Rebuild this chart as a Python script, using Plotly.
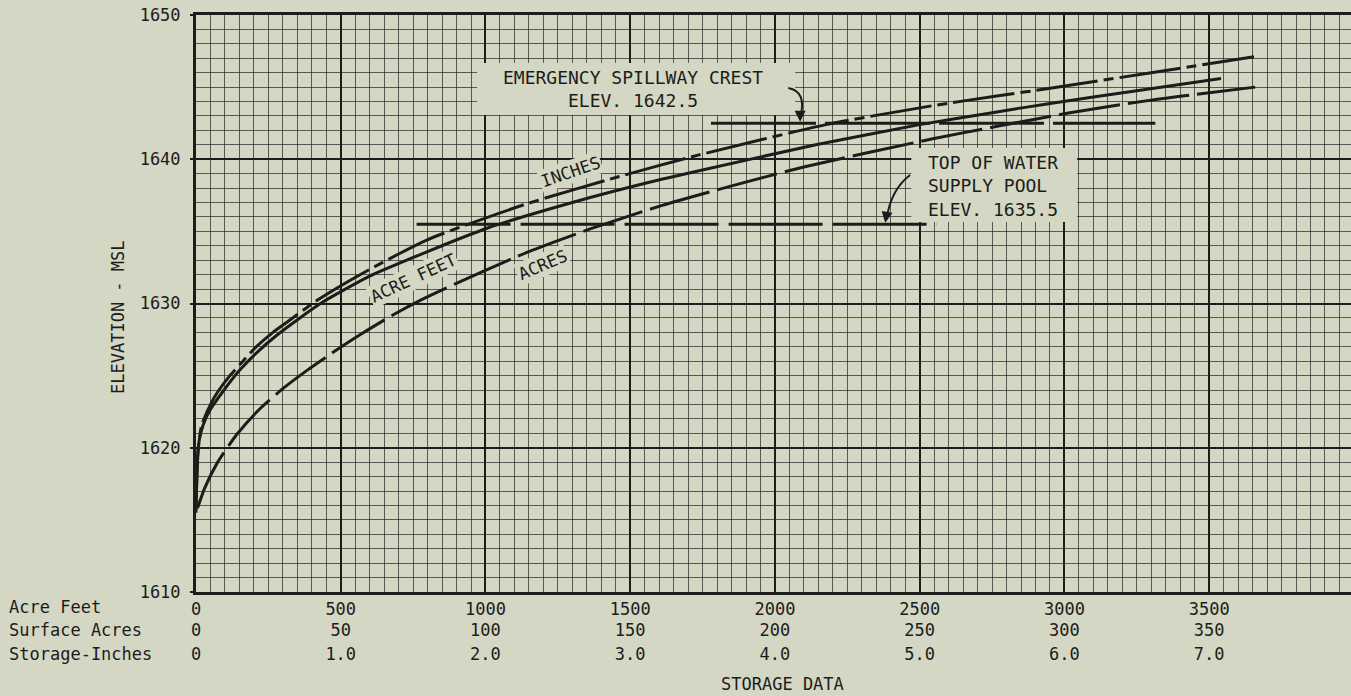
import plotly.graph_objects as go

# ---------------- data ----------------
# Acre-feet curve (x in acre feet)
acre_feet_x = [0, 1, 3, 6, 12, 25, 48, 93, 152, 210, 279, 359, 438, 600, 800, 1003, 1300, 1566, 1738, 2141, 2500, 2772, 2945, 3250, 3541]
acre_feet_y = [1615.5, 1616.5, 1618.0, 1619.5, 1620.6, 1621.6, 1622.6, 1623.9, 1625.4, 1626.6, 1627.8, 1629.0, 1630.1, 1631.9, 1633.6, 1635.2, 1637.0, 1638.4, 1639.2, 1641.0, 1642.4, 1643.3, 1643.85, 1644.75, 1645.6]

# Surface-acres curve (x in acres)
acres_x = [0.5, 3.0, 7.2, 14.0, 22.1, 30.0, 38.6, 48.0, 57.2, 68.0, 78.3, 95.5, 115.0, 135.9, 161.0, 184.1, 210.7, 254.1, 277.2, 301.4, 330.0, 365.9]
acres_y = [1615.8, 1617.2, 1618.9, 1620.9, 1622.7, 1624.1, 1625.4, 1626.7, 1627.9, 1629.2, 1630.3, 1631.9, 1633.6, 1635.15, 1636.8, 1638.1, 1639.5, 1641.4, 1642.3, 1643.2, 1644.1, 1645.0]

# Storage-inches curve (x in inches)
inches_x = [0, 0.006, 0.016, 0.04, 0.11, 0.152, 0.234, 0.324, 0.406, 0.532, 0.628, 0.834, 1.152, 1.594, 2.282, 2.924, 3.476, 4.352, 5.082, 5.544, 5.89, 6.6, 7.31]
inches_y = [1616.0, 1618.0, 1620.0, 1621.6, 1623.2, 1623.9, 1625.0, 1626.0, 1626.9, 1628.0, 1628.7, 1630.2, 1632.1, 1634.4, 1636.9, 1638.8, 1640.3, 1642.4, 1643.7, 1644.4, 1644.9, 1646.0, 1647.1]

# Reference elevations (x extents in acre feet)
spillway_elev = 1642.5
spillway_x = [1779, 3314]
pool_elev = 1635.5
pool_x = [762, 2559]

# Axis ticks
af_ticks = [0, 500, 1000, 1500, 2000, 2500, 3000, 3500]
af_labels = ["0", "500", "1000", "1500", "2000", "2500", "3000", "3500"]
acre_ticks = [0, 50, 100, 150, 200, 250, 300, 350]
acre_labels = ["0", "50", "100", "150", "200", "250", "300", "350"]
inch_ticks = [0, 1, 2, 3, 4, 5, 6, 7]
inch_labels = ["0", "1.0", "2.0", "3.0", "4.0", "5.0", "6.0", "7.0"]
elev_ticks = [1610, 1620, 1630, 1640, 1650]
elev_labels = ["1610", "1620", "1630", "1640", "1650"]
row_names = ["Acre Feet", "Surface Acres", "Storage-Inches"]

# ---------------- style ----------------
PAPER = "#d4d7c3"
INK = "#1c1c1a"
MINOR = "rgba(35,35,32,0.7)"
FONT = "DejaVu Sans Mono"
FS = 17
AF_MAX = 3990.0

fig = go.Figure()

fig.add_trace(go.Scatter(x=acre_feet_x, y=acre_feet_y, mode="lines", xaxis="x", yaxis="y",
                         line=dict(color=INK, width=3, shape="spline", smoothing=0.6),
                         hoverinfo="skip", showlegend=False))
fig.add_trace(go.Scatter(x=acres_x, y=acres_y, mode="lines", xaxis="x2", yaxis="y",
                         line=dict(color=INK, width=3, dash="62px,8px", shape="spline", smoothing=0.6),
                         hoverinfo="skip", showlegend=False))
fig.add_trace(go.Scatter(x=inches_x, y=inches_y, mode="lines", xaxis="x3", yaxis="y",
                         line=dict(color=INK, width=3, dash="62px,6px,10px,6px", shape="spline", smoothing=0.6),
                         hoverinfo="skip", showlegend=False))
fig.add_trace(go.Scatter(x=spillway_x, y=[spillway_elev] * 2, mode="lines",
                         line=dict(color=INK, width=3, dash="105px,9px"),
                         hoverinfo="skip", showlegend=False))
fig.add_trace(go.Scatter(x=pool_x, y=[pool_elev] * 2, mode="lines",
                         line=dict(color=INK, width=3, dash="94px,10px"),
                         hoverinfo="skip", showlegend=False))

tickfont = dict(family=FONT, size=FS, color=INK)

fig.update_layout(
    width=1351, height=696,
    margin=dict(l=196, r=0, t=15, b=104),
    paper_bgcolor=PAPER, plot_bgcolor=PAPER,
    font=dict(family=FONT, size=FS, color=INK),
    xaxis=dict(range=[0, AF_MAX], tickmode="array", tickvals=af_ticks, ticktext=af_labels,
               showgrid=True, gridcolor=INK, gridwidth=2, zeroline=False,
               showline=True, linecolor=INK, linewidth=3, mirror=True, ticks="",
               tickfont=tickfont, ticklabelstandoff=0,
               minor=dict(tickmode="linear", tick0=0, dtick=50, showgrid=True,
                          gridcolor=MINOR, gridwidth=1, ticks="")),
    xaxis2=dict(range=[0, AF_MAX / 10], overlaying="x", anchor="y", side="bottom",
                tickmode="array", tickvals=acre_ticks, ticktext=acre_labels,
                showgrid=False, zeroline=False, showline=False, ticks="",
                tickfont=tickfont, ticklabelstandoff=26),
    xaxis3=dict(range=[0, AF_MAX / 500], overlaying="x", anchor="y", side="bottom",
                tickmode="array", tickvals=inch_ticks, ticktext=inch_labels,
                showgrid=False, zeroline=False, showline=False, ticks="",
                tickfont=tickfont, ticklabelstandoff=50),
    yaxis=dict(range=[1610, 1650], tickmode="array", tickvals=elev_ticks, ticktext=elev_labels,
               showgrid=True, gridcolor=INK, gridwidth=2, zeroline=False,
               showline=True, linecolor=INK, linewidth=3, ticks="outside", ticklen=3,
               tickcolor=INK, tickwidth=2, tickfont=tickfont, ticklabelstandoff=6,
               minor=dict(tickmode="linear", tick0=1610, dtick=1, showgrid=True,
                          gridcolor=MINOR, gridwidth=1, ticks="")),
)

# label boxes masking the grid
fig.add_shape(type="rect", xref="x", yref="y", x0=971, x1=2070, y0=1643.07, y1=1646.67,
              fillcolor=PAPER, line=dict(width=0), layer="between")
fig.add_shape(type="rect", xref="x", yref="y", x0=2471, x1=3044, y0=1635.65, y1=1640.78,
              fillcolor=PAPER, line=dict(width=0), layer="between")

# curved leader lines
fig.add_shape(type="path", xref="x", yref="y",
              path="M 2046,1644.94 Q 2112,1644.7 2087,1642.9",
              line=dict(color=INK, width=2), layer="above")
fig.add_shape(type="path", xref="x", yref="y",
              path="M 2467,1638.91 Q 2400,1637.9 2385,1635.8",
              line=dict(color=INK, width=2), layer="above")

annots = []
annots.append(dict(x=2087, y=1642.6, xref="x", yref="y", text="", showarrow=True,
                   ax=0, ay=-12, arrowhead=2, arrowsize=1.1, arrowwidth=2, arrowcolor=INK))
annots.append(dict(x=2381, y=1635.6, xref="x", yref="y", text="", showarrow=True,
                   ax=2, ay=-12, arrowhead=2, arrowsize=1.1, arrowwidth=2, arrowcolor=INK))

annots.append(dict(x=1510, y=1644.87, xref="x", yref="y", showarrow=False,
                   text="EMERGENCY SPILLWAY CREST<br>ELEV. 1642.5", align="center",
                   font=dict(family=FONT, size=FS + 1, color=INK)))
annots.append(dict(x=2522, y=1638.15, xref="x", yref="y", showarrow=False, xanchor="left",
                   text="TOP OF WATER<br>SUPPLY POOL<br>ELEV. 1635.5", align="left",
                   font=dict(family=FONT, size=FS + 1, color=INK)))

# rotated curve labels
for txt, xx, yy, ang in [("INCHES", 1292, 1639.1, -19), ("ACRE FEET", 750, 1631.8, -25),
                         ("ACRES", 1196, 1632.7, -23)]:
    annots.append(dict(x=xx, y=yy, xref="x", yref="y", text=txt, showarrow=False,
                       textangle=ang, bgcolor=PAPER, borderpad=1,
                       font=dict(family=FONT, size=FS, color=INK)))

# axis titles
annots.append(dict(x=-78 / 1155, y=(592 - 317) / 577, xref="paper", yref="paper",
                   text="ELEVATION - MSL", textangle=-90, showarrow=False,
                   xanchor="center", yanchor="middle",
                   font=dict(family=FONT, size=FS, color=INK)))
annots.append(dict(x=(782 - 196) / 1155, y=0, xref="paper", yref="paper", yshift=-92,
                   text="STORAGE DATA", showarrow=False, xanchor="center", yanchor="middle",
                   font=dict(family=FONT, size=FS, color=INK)))
for name, dy in zip(row_names, [-15, -38, -62]):
    annots.append(dict(x=-189 / 1155, y=0, xref="paper", yref="paper", yshift=dy,
                       text=name, showarrow=False, xanchor="left", yanchor="middle",
                       font=dict(family=FONT, size=FS, color=INK)))

fig.update_layout(annotations=annots)
fig.write_html("out.html", config={"displayModeBar": False},
               post_script="document.body.style.margin='0';document.body.style.overflow='hidden';")
